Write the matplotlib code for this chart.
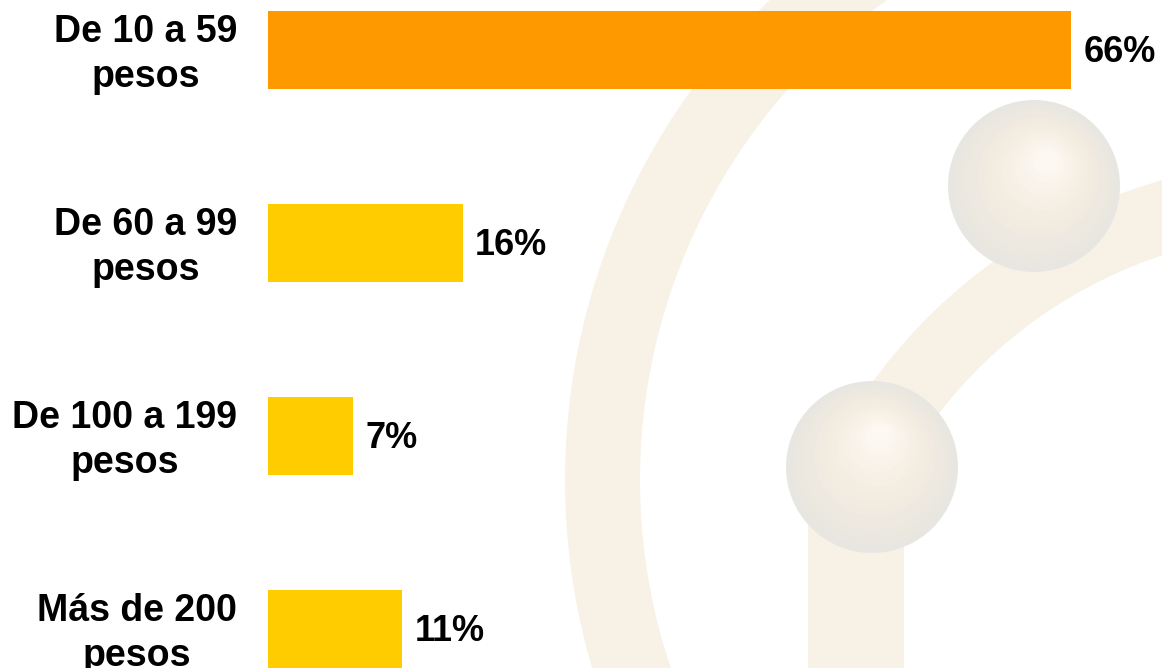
import numpy as np
import matplotlib.pyplot as plt
from matplotlib.patches import Wedge, Circle, Rectangle

plt.rcParams['font.family'] = ['Liberation Sans', 'DejaVu Sans']

categories = ["De 10 a 59\npesos", "De 60 a 99\npesos", "De 100 a 199\npesos", "Más de 200\npesos"]
values = [66, 16, 7, 11]
labels = ["66%", "16%", "7%", "11%"]
colors = ["#FF9900", "#FFCC00", "#FFCC00", "#FFCC00"]

W, H = 1162, 668
fig = plt.figure(figsize=(W / 100, H / 100), dpi=100)

# faint decorative watermark in the background (pixel coordinates)
bg = fig.add_axes([0, 0, 1, 1])
bg.set_xlim(0, W)
bg.set_ylim(H, 0)
bg.axis("off")
cream = "#F8F1E6"
bg.add_patch(Wedge((1230, 480), 665, 150, 260, width=75, color=cream, lw=0))
bg.add_patch(Wedge((1308, 698), 538, 200, 270, width=72, color=cream, lw=0))
bg.add_patch(Rectangle((808, 480), 96, 200, color=cream, lw=0))
edge = np.array([232, 230, 224])
mid = np.array([244, 236, 224])
light = np.array([253, 249, 242])
for cx, cy, hx, hy in [(1034, 186, 1048, 160), (872, 467, 880, 434)]:
    steps = 16
    for k in range(steps):
        f = k / (steps - 1)
        r = 86 * (1 - 0.9 * f)
        x = cx + (hx - cx) * f
        y = cy + (hy - cy) * f
        if f < 0.5:
            c = edge * (1 - 2 * f) + mid * 2 * f
        else:
            c = mid * (2 - 2 * f) + light * (2 * f - 1)
        bg.add_patch(Circle((x, y), r, color=c / 255, lw=0))

# bar chart
left = 268
ax = fig.add_axes([left / W, 0, 1 - left / W, 1])
ax.patch.set_alpha(0)
scale = 12.17  # pixels per percent
ax.set_xlim(0, (W - left) / scale)
pos = np.arange(len(values))
ax.set_ylim((H - 50) / 193, -50 / 193)
ax.barh(pos, values, height=0.404, color=colors)
for p, v, lab in zip(pos, values, labels):
    ax.annotate(lab, (v, p), xytext=(9, -2), textcoords="offset points",
                va="center", ha="left", fontsize=26, fontweight="bold")
for p, cat in zip(pos, categories):
    ax.annotate(cat, (0, p), xytext=(-(left - 237) * 0.72, -3), textcoords="offset points",
                ha="right", va="center", multialignment="center", fontsize=27,
                fontweight="bold", linespacing=1.32, annotation_clip=False)
ax.axis("off")

fig.savefig("out.png", dpi=100)
